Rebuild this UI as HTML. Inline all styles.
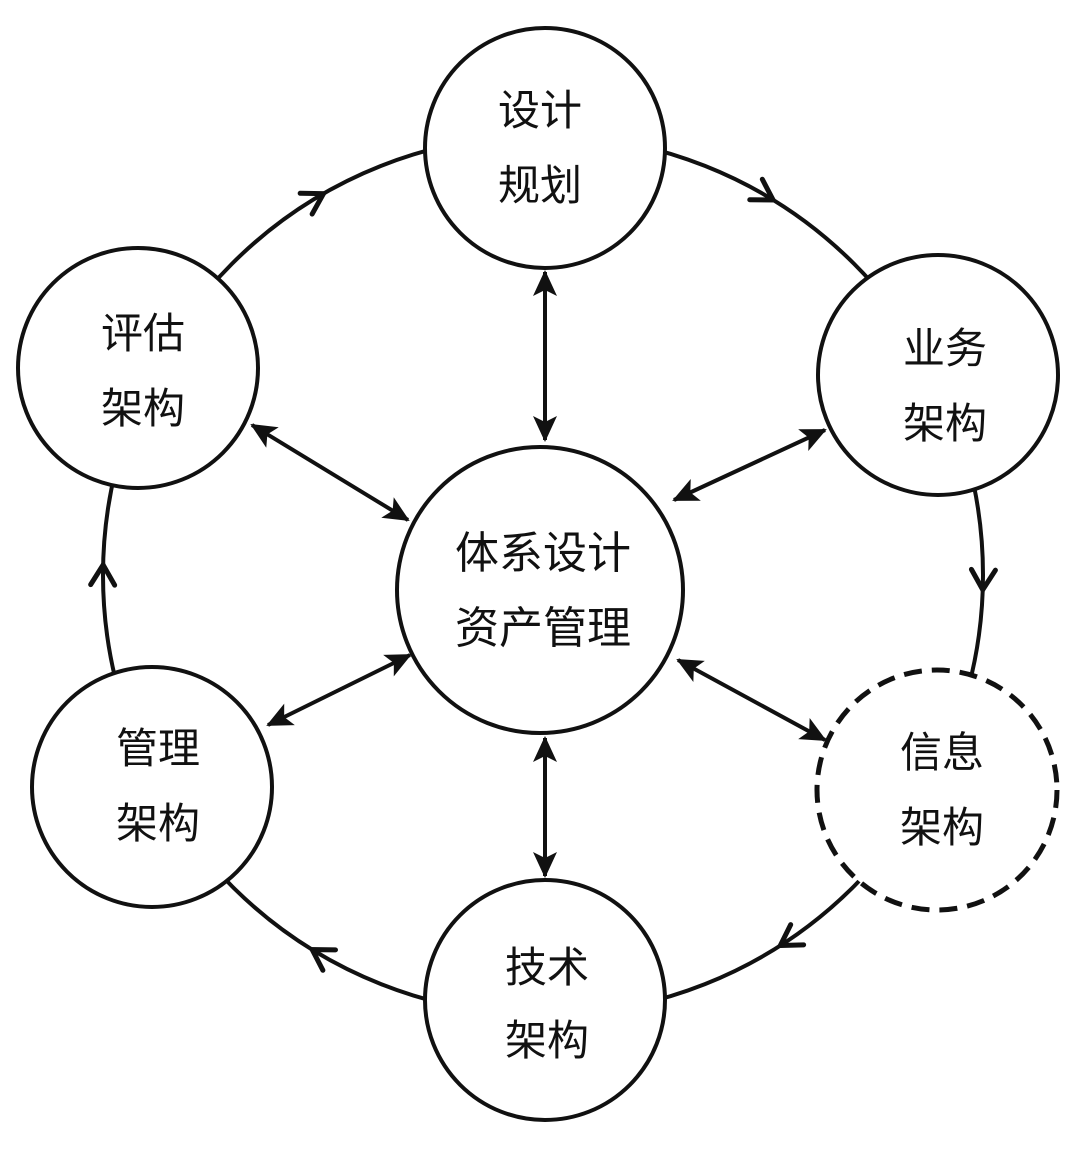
<!DOCTYPE html>
<html><head><meta charset="utf-8"><style>
html,body{margin:0;padding:0;background:#fff;}
svg{display:block}
text{font-family:"Liberation Sans","Noto Sans CJK SC",sans-serif;fill:#111;text-anchor:middle;}
</style></head><body>
<svg id="s" width="1080" height="1153" viewBox="0 0 1080 1153" xmlns="http://www.w3.org/2000/svg">
<defs>
<marker id="a" viewBox="0 0 26 26" refX="24" refY="13" markerWidth="26" markerHeight="26" orient="auto-start-reverse" markerUnits="userSpaceOnUse">
<path d="M0,1 L26,13 L0,25 L6,13 Z" fill="#111"/>
</marker>
</defs>
<circle cx="543" cy="575" r="440" fill="none" stroke="#111" stroke-width="4"/>
<g id="chev" fill="none" stroke="#111" stroke-width="5" stroke-linecap="round" stroke-linejoin="miter"></g>
<g stroke="#111" stroke-width="4">
<line x1="545" y1="272" x2="545" y2="440" marker-start="url(#a)" marker-end="url(#a)"/>
<line x1="545" y1="738" x2="545" y2="876" marker-start="url(#a)" marker-end="url(#a)"/>
<line x1="252" y1="425" x2="408" y2="520" marker-start="url(#a)" marker-end="url(#a)"/>
<line x1="825" y1="430" x2="674" y2="500" marker-start="url(#a)" marker-end="url(#a)"/>
<line x1="268" y1="725" x2="410" y2="655" marker-start="url(#a)" marker-end="url(#a)"/>
<line x1="678" y1="660" x2="825" y2="740" marker-start="url(#a)" marker-end="url(#a)"/>
</g>
<g fill="#fff" stroke="#111" stroke-width="4">
<circle cx="545" cy="148" r="120"/>
<circle cx="138" cy="368" r="120"/>
<circle cx="938" cy="375" r="120"/>
<circle cx="540" cy="590" r="143"/>
<circle cx="152" cy="787" r="120"/>
<circle cx="937" cy="790" r="120" stroke-dasharray="18,10" stroke-width="5"/>
<circle cx="545" cy="1000" r="120"/>
</g>
<g font-size="42">
<text x="540" y="125">设计</text><text x="540" y="200">规划</text>
<text x="143" y="348">评估</text><text x="143" y="423">架构</text>
<text x="945" y="363">业务</text><text x="945" y="438">架构</text>
<text x="158" y="763">管理</text><text x="158" y="838">架构</text>
<text x="942" y="767">信息</text><text x="942" y="842">架构</text>
<text x="547" y="982">技术</text><text x="547" y="1055">架构</text>
<text x="543" y="568" font-size="44">体系设计</text><text x="543" y="643" font-size="44">资产管理</text>
</g>
</svg>
<script>
(function(){
var cx=543,cy=575,R=440,g=document.getElementById('chev');
var pts=[[330,205],[770,205],[990,590],[780,945],[315,945],[108,565]];
pts.forEach(function(p){
var a=Math.atan2(p[1]-cy,p[0]-cx);
var x=cx+R*Math.cos(a),y=cy+R*Math.sin(a);
var tx=-Math.sin(a),ty=Math.cos(a);
var nx=Math.cos(a),ny=Math.sin(a);
var L=20,W=12;
var pl=document.createElementNS('http://www.w3.org/2000/svg','polyline');
pl.setAttribute('points',(x-L*tx+W*nx)+','+(y-L*ty+W*ny)+' '+x+','+y+' '+(x-L*tx-W*nx)+','+(y-L*ty-W*ny));
g.appendChild(pl);
});
})();
</script>
</body></html>
